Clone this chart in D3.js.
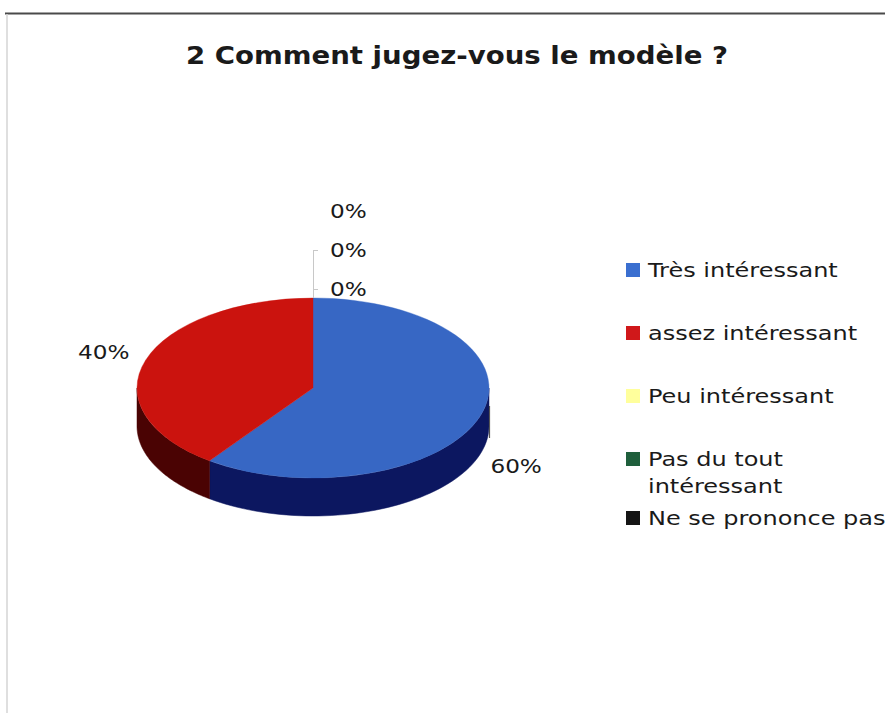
<!DOCTYPE html>
<html>
<head>
<meta charset="utf-8">
<script src="https://cdn.jsdelivr.net/npm/d3@7"></script>
<style>
  html, body { margin: 0; padding: 0; background: #fff; }
  svg { display: block; }
  text { font-family: "DejaVu Sans", Verdana, sans-serif; fill: #1a1a1a; }
</style>
</head>
<body>
<svg id="chart" width="885" height="713"></svg>
<script>
// Survey answers: "2 Comment jugez-vous le modèle ?"
const categories = ["Très intéressant", "assez intéressant", "Peu intéressant", "Pas du tout intéressant", "Ne se prononce pas"];
const legendLines = [["Très intéressant"], ["assez intéressant"], ["Peu intéressant"], ["Pas du tout", "intéressant"], ["Ne se prononce pas"]];
const values = [60, 40, 0, 0, 0];
const topColors = ["#3767c4", "#cb130e", "#ffff99", "#1c5a3a", "#111111"];
const sideColors = ["#0c1760", "#4a0303", "#c8c860", "#0f3522", "#050505"];
const legendColors = ["#3a6fd0", "#d0181a", "#ffff9c", "#1f5f3c", "#151515"];

const svg = d3.select("#chart");

// wide-set text: horizontal stretch around the anchor point
function label(parent, x, y, str, opts) {
  const o = Object.assign({ size: 19, sx: 1.22, anchor: "start", weight: "normal" }, opts);
  return parent.append("g").attr("transform", `translate(${x},${y}) scale(${o.sx},1)`)
    .append("text").attr("dy", o.dy || null).attr("text-anchor", o.anchor)
    .attr("font-size", o.size).attr("font-weight", o.weight).text(str);
}

// frame lines
svg.append("line").attr("x1", 5).attr("x2", 885).attr("y1", 13.5).attr("y2", 13.5)
  .attr("stroke", "#4a4a4a").attr("stroke-width", 2);
svg.append("line").attr("x1", 7).attr("x2", 7).attr("y1", 14).attr("y2", 713)
  .attr("stroke", "#d4d4d4").attr("stroke-width", 1.5);

// title
label(svg, 457, 64, "2 Comment jugez-vous le modèle ?", { size: 24, sx: 1.15, anchor: "middle", weight: "bold" });

// 3D pie geometry
const cx = 313, cy = 388, rx = 176, ry = 90, depth = 38;
const pie = d3.pie().sort(null).value(d => d).startAngle(0).endAngle(2 * Math.PI);
const arcs = pie(values);

// angle measured clockwise from top, as d3.pie does
const ex = a => cx + rx * Math.sin(a);
const ey = a => cy - ry * Math.cos(a);

const g = svg.append("g");

// visible side walls: the front half runs from PI/2 to 3PI/2
arcs.forEach((d, i) => {
  if (d.value === 0) return;
  const a0 = Math.max(d.startAngle, Math.PI / 2);
  const a1 = Math.min(d.endAngle, 3 * Math.PI / 2);
  if (a1 <= a0) return;
  const n = 60;
  const top = d3.range(n + 1).map(k => a0 + (a1 - a0) * k / n);
  const pts = top.map(a => [ex(a), ey(a)])
    .concat(top.slice().reverse().map(a => [ex(a), ey(a) + depth]));
  g.append("path").attr("d", d3.line()(pts) + "Z")
    .attr("fill", sideColors[i]).attr("stroke", sideColors[i]).attr("stroke-width", 0.5);
});

// top faces: a circular arc squashed into an ellipse
const arcGen = d3.arc().innerRadius(0).outerRadius(rx);
const topG = g.append("g").attr("transform", `translate(${cx},${cy}) scale(1,${ry / rx})`);
arcs.forEach((d, i) => {
  if (d.value === 0) return;
  topG.append("path").attr("d", arcGen(d)).attr("fill", topColors[i])
    .attr("stroke", topColors[i]).attr("stroke-width", 0.5);
});

// value labels for non-empty slices
const fmt = v => v + "%";
arcs.forEach((d, i) => {
  if (d.value === 0) return;
  const mid = (d.startAngle + d.endAngle) / 2;
  const right = Math.sin(mid) > 0;
  const lower = Math.cos(mid) < 0;
  const bx = ex(mid) + (right ? 10 : -16);
  const by = ey(mid) + (lower ? depth + 13 : -8);
  label(svg, bx, by, fmt(d.value), { dy: "0.35em", anchor: right ? "start" : "end" });
});

// leader for the right-hand label
svg.append("line").attr("x1", ex(Math.PI / 2) + 0.5).attr("x2", ex(Math.PI / 2) + 0.5)
  .attr("y1", ey(Math.PI / 2) + 18).attr("y2", ey(Math.PI / 2) + 50)
  .attr("stroke", "#555").attr("stroke-width", 1.2);

// empty slices are stacked above the top of the pie
const zeroIdx = arcs.map((d, i) => i).filter(i => values[i] === 0);
const topX = ex(0), topY = ey(0);
const step = 39;
zeroIdx.forEach((i, k) => {
  const ly = topY - 9 - step * k;
  label(svg, topX + 17, ly, fmt(values[i]), { dy: "0.35em" });
});
svg.append("line").attr("x1", topX + 0.5).attr("x2", topX + 0.5)
  .attr("y1", topY).attr("y2", topY - 9 - step)
  .attr("stroke", "#c8c8c8").attr("stroke-width", 1);
[0, 1].forEach(k => {
  svg.append("line").attr("x1", topX).attr("x2", topX + 5)
    .attr("y1", topY - 9 - step * k + 0.5).attr("y2", topY - 9 - step * k + 0.5)
    .attr("stroke", "#c8c8c8").attr("stroke-width", 1);
});

// legend
const legendRows = [270, 333, 396, 459, 518];
const lg = svg.append("g");
categories.forEach((c, i) => {
  const y = legendRows[i];
  lg.append("rect").attr("x", 626).attr("y", y - 7).attr("width", 14).attr("height", 14)
    .attr("fill", legendColors[i]);
  legendLines[i].forEach((t, j) => {
    label(lg, 648, y + j * 27, t, { dy: "0.35em", size: 20, sx: 1.2 });
  });
});
</script>
</body>
</html>
